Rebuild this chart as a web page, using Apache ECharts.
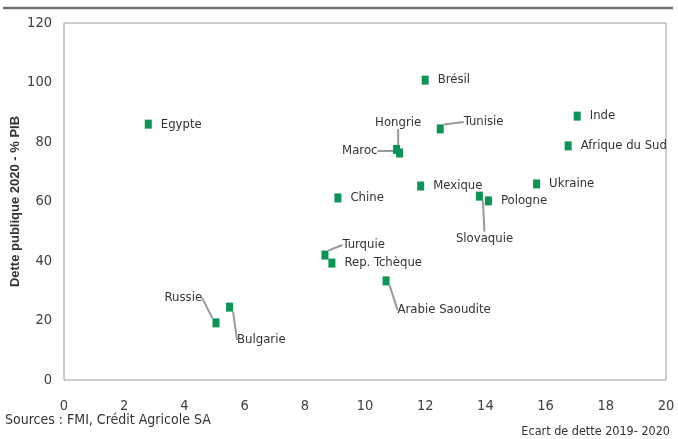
<!DOCTYPE html>
<html>
<head>
<meta charset="utf-8">
<script src="https://cdn.jsdelivr.net/npm/echarts@6/dist/echarts.min.js"></script>
<style>
  html, body { margin: 0; padding: 0; background: #fff; }
  #scatterChart { width: 678px; height: 439px; }
</style>
</head>
<body>
<div id="scatterChart"></div>
<script>
// pays et valeurs
const countries = ['Egypte', 'Brésil', 'Tunisie', 'Hongrie', 'Maroc', 'Inde', 'Afrique du Sud', 'Ukraine',
  'Mexique', 'Slovaquie', 'Pologne', 'Chine', 'Turquie', 'Rep. Tchèque', 'Arabie Saoudite', 'Russie', 'Bulgarie'];
const ecartDette = [2.8, 12.0, 12.5, 11.05, 11.15, 17.05, 16.75, 15.7, 11.85, 13.8, 14.1, 9.1, 8.67, 8.9, 10.7, 5.05, 5.5];
const dettePib = [86, 100.8, 84.4, 77.5, 76.3, 88.7, 78.7, 65.9, 65.2, 61.8, 60.2, 61.2, 42, 39.3, 33.3, 19.2, 24.5];
const xTicks = [0, 2, 4, 6, 8, 10, 12, 14, 16, 18, 20];
const yTicks = [0, 20, 40, 60, 80, 100, 120];

// décalage des étiquettes reliées par un trait (px)
const leaders = {
  'Tunisie': [11, -7],
  'Hongrie': [-34, -27],
  'Maroc': [-70, -2],
  'Slovaquie': [-36, 42],
  'Turquie': [5, -10],
  'Arabie Saoudite': [-1, 29],
  'Russie': [-64, -25],
  'Bulgarie': [-5, 33]
};

const font = '"Liberation Sans Narrow", "DejaVu Sans Condensed", "Arial Narrow", "Liberation Sans", sans-serif';

let chart = echarts.init(document.getElementById('scatterChart'));

let points = countries.map(function (name, i) {
  return {
    name: name,
    value: [ecartDette[i], dettePib[i]],
    labelLine: { show: !!leaders[name] }
  };
});

chart.setOption({
  animation: false,
  grid: {
    left: 64,
    right: 12,
    top: 23,
    bottom: 59,
    outerBoundsMode: 'none',
    show: true,
    borderColor: '#9a9a9a',
    borderWidth: 1,
    backgroundColor: '#fff'
  },
  xAxis: {
    type: 'value',
    min: xTicks[0],
    max: xTicks[xTicks.length - 1],
    interval: 2,
    axisLine: { show: false },
    axisTick: { show: false },
    splitLine: { show: false },
    axisLabel: { margin: 19, color: '#404040', fontSize: 14.5, fontFamily: font }
  },
  yAxis: {
    type: 'value',
    min: yTicks[0],
    max: yTicks[yTicks.length - 1],
    interval: 20,
    axisLine: { show: false },
    axisTick: { show: false },
    splitLine: { show: false },
    axisLabel: { margin: 12, color: '#404040', fontSize: 14.5, fontFamily: font },
    name: 'Dette publique 2020 - % PIB',
    nameLocation: 'middle',
    nameGap: 42,
    nameMoveOverlap: false,
    nameTextStyle: { color: '#333', fontSize: 13, fontWeight: 'bold', fontFamily: 'Liberation Sans, Arial, sans-serif' }
  },
  graphic: [
    {
      type: 'line',
      shape: { x1: 3, y1: 8, x2: 673, y2: 8 },
      style: { stroke: '#707070', lineWidth: 2.5 }
    },
    {
      type: 'text',
      left: 5,
      top: 413,
      style: { text: 'Sources : FMI, Crédit Agricole SA', fill: '#333', font: '14px ' + font }
    },
    {
      type: 'text',
      right: 8,
      top: 425,
      style: { text: 'Ecart de dette 2019- 2020', fill: '#333', font: '12.5px ' + font }
    }
  ],
  series: [
    {
      type: 'scatter',
      symbol: 'rect',
      symbolSize: [7, 9],
      itemStyle: { color: '#0b9455', opacity: 1 },
      data: points,
      label: {
        show: true,
        position: 'right',
        distance: 9,
        formatter: '{b}',
        color: '#333',
        fontSize: 13,
        fontFamily: font
      },
      labelLine: {
        lineStyle: { color: '#9a9a9a', width: 2 }
      },
      labelLayout: function (params) {
        let off = leaders[countries[params.dataIndex]];
        if (!off) return {};
        return { dx: off[0], dy: off[1] };
      }
    }
  ]
});
</script>
</body>
</html>
